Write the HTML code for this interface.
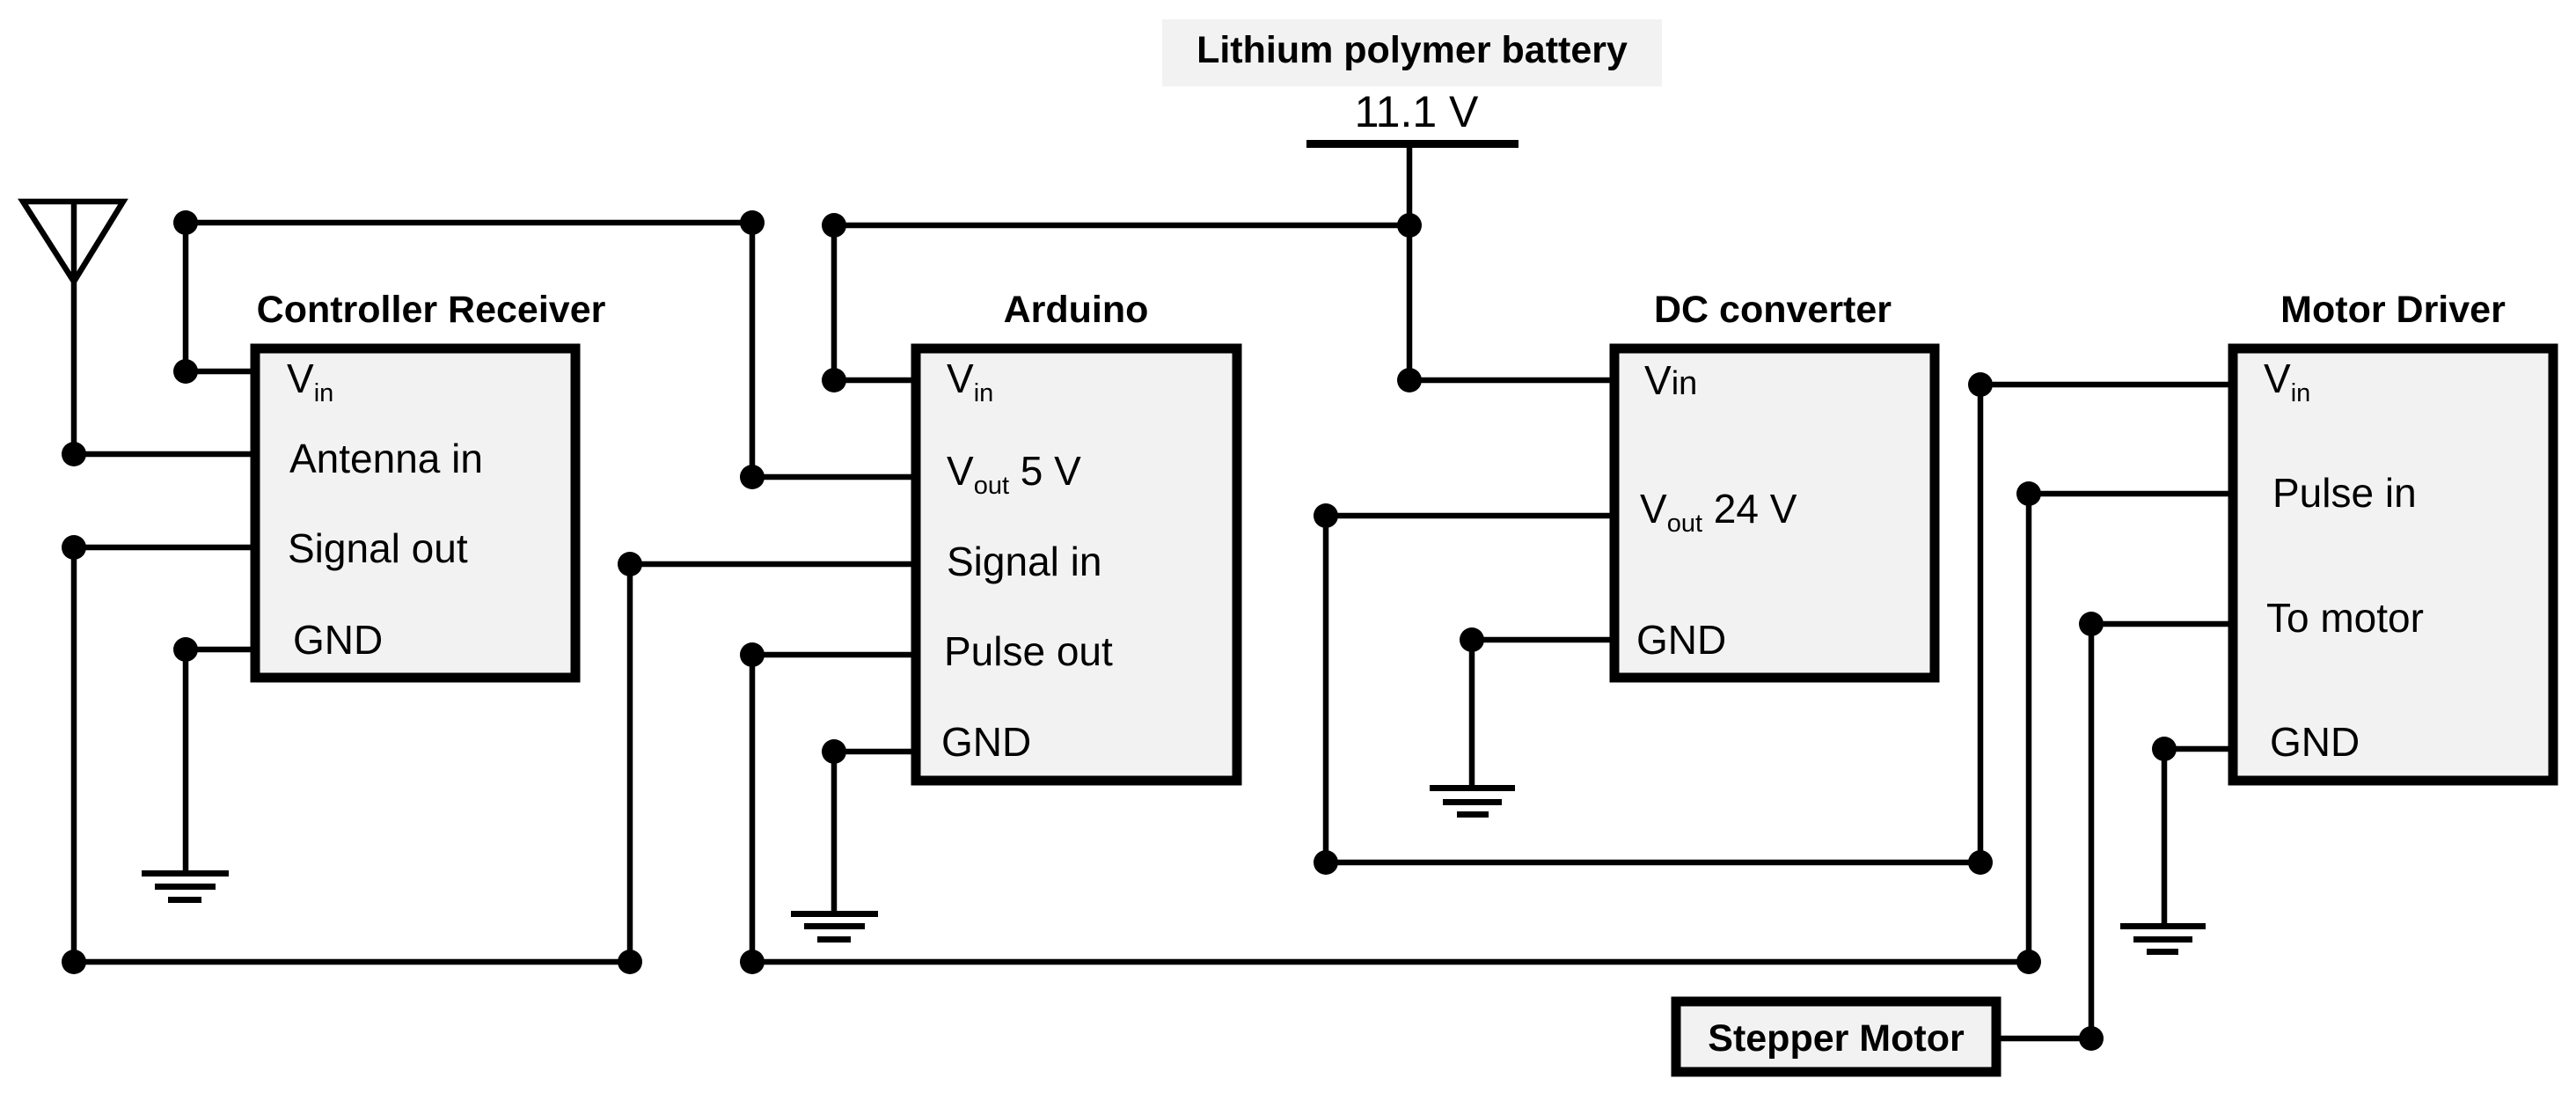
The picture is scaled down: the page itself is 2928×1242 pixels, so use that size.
<!DOCTYPE html>
<html><head><meta charset="utf-8"><style>
html,body{margin:0;padding:0;background:#fff;}
svg{display:block;}
text{font-family:"Liberation Sans",sans-serif;fill:#000;}
.t{font-weight:bold;font-size:43px;}
.l{font-size:46px;}
</style></head><body>
<svg width="2928" height="1242" viewBox="0 0 2928 1242" xmlns="http://www.w3.org/2000/svg">
<g stroke="#000" stroke-width="6.5" fill="none" stroke-linecap="square">
<path d="M26 229 L140 229 L84 320 Z M84 229 V516 H290"/>
<path d="M211 422 V253 H855 V542 H1041"/>
<path d="M211 422 H290"/>
<path d="M84 622 H290 M84 622 V1093 H716 V641 H1041"/>
<path d="M211 738 H290 M211 738 V989"/>
<path d="M948 432 V256 H1602 M948 432 H1041"/>
<path d="M855 744 H1041 M855 744 V1093 H2306 V561 H2538"/>
<path d="M948 854 H1041 M948 854 V1035"/>
<path d="M1602 163 V432 H1835"/>
<path d="M1507 586 H1835 M1507 586 V980 H2251 V437 H2538"/>
<path d="M1673 727 H1835 M1673 727 V892"/>
<path d="M2377 709 H2538 M2377 709 V1180 H2269"/>
<path d="M2460 851 H2538 M2460 851 V1049"/>
</g>
<rect x="1485" y="159" width="241" height="9" fill="#000"/>
<g fill="#000">
<rect x="161" y="989" width="99" height="7"/><rect x="176" y="1004" width="69" height="7"/><rect x="191" y="1019" width="38" height="7"/>
<rect x="899" y="1035" width="99" height="7"/><rect x="914" y="1049" width="69" height="7"/><rect x="929" y="1064" width="38" height="7"/>
<rect x="1625" y="892" width="97" height="7"/><rect x="1640" y="908" width="67" height="7"/><rect x="1656" y="922" width="36" height="7"/>
<rect x="2410" y="1049" width="97" height="7"/><rect x="2425" y="1064" width="67" height="7"/><rect x="2440" y="1078" width="36" height="7"/>
</g>
<g fill="#f2f2f2" stroke="#000" stroke-width="11">
<rect x="290" y="396" width="364" height="374"/>
<rect x="1041" y="396" width="365" height="491"/>
<rect x="1835" y="396" width="364" height="374"/>
<rect x="2538" y="396" width="364" height="491"/>
<rect x="1905" y="1138" width="364" height="80"/>
</g>
<rect x="1321" y="22" width="568" height="76" fill="#f2f2f2"/>
<g fill="#000">
<circle cx="84" cy="516" r="14"/><circle cx="211" cy="253" r="14"/><circle cx="855" cy="253" r="14"/>
<circle cx="211" cy="422" r="14"/><circle cx="84" cy="622" r="14"/><circle cx="211" cy="738" r="14"/>
<circle cx="84" cy="1093" r="14"/><circle cx="716" cy="1093" r="14"/><circle cx="716" cy="641" r="14"/>
<circle cx="948" cy="256" r="14"/><circle cx="948" cy="432" r="14"/><circle cx="855" cy="542" r="14"/>
<circle cx="855" cy="744" r="14"/><circle cx="855" cy="1093" r="14"/><circle cx="948" cy="854" r="14"/>
<circle cx="1602" cy="256" r="14"/><circle cx="1602" cy="432" r="14"/>
<circle cx="1507" cy="586" r="14"/><circle cx="1507" cy="980" r="14"/><circle cx="2251" cy="980" r="14"/>
<circle cx="2251" cy="437" r="14"/><circle cx="1673" cy="727" r="14"/>
<circle cx="2306" cy="561" r="14"/><circle cx="2306" cy="1093" r="14"/>
<circle cx="2377" cy="709" r="14"/><circle cx="2377" cy="1180" r="14"/><circle cx="2460" cy="851" r="14"/>
</g>
<text class="t" x="490" y="366" text-anchor="middle">Controller Receiver</text>
<text class="t" x="1223" y="366" text-anchor="middle">Arduino</text>
<text class="t" x="2015" y="366" text-anchor="middle">DC converter</text>
<text class="t" x="2720" y="366" text-anchor="middle">Motor Driver</text>
<text class="t" x="1605" y="71" text-anchor="middle">Lithium polymer battery</text>
<text class="l" x="1610" y="144" text-anchor="middle" style="font-size:50px">11.1 V</text>
<text class="t" x="2087" y="1194" text-anchor="middle">Stepper Motor</text>
<text class="l" x="326" y="446">V<tspan font-size="29" dy="10">in</tspan></text>
<text class="l" x="329" y="537">Antenna in</text>
<text class="l" x="327" y="639">Signal out</text>
<text class="l" x="333" y="743">GND</text>
<text class="l" x="1076" y="446">V<tspan font-size="29" dy="10">in</tspan></text>
<text class="l" x="1076" y="551">V<tspan font-size="29" dy="10">out</tspan><tspan dy="-10"> 5 V</tspan></text>
<text class="l" x="1076" y="654">Signal in</text>
<text class="l" x="1073" y="756">Pulse out</text>
<text class="l" x="1070" y="859">GND</text>
<text class="l" x="1869" y="448">V<tspan font-size="38">in</tspan></text>
<text class="l" x="1864" y="594">V<tspan font-size="29" dy="10">out</tspan><tspan dy="-10"> 24 V</tspan></text>
<text class="l" x="1860" y="743">GND</text>
<text class="l" x="2573" y="446">V<tspan font-size="29" dy="10">in</tspan></text>
<text class="l" x="2583" y="576">Pulse in</text>
<text class="l" x="2576" y="718">To motor</text>
<text class="l" x="2580" y="859">GND</text>
</svg>
</body></html>
